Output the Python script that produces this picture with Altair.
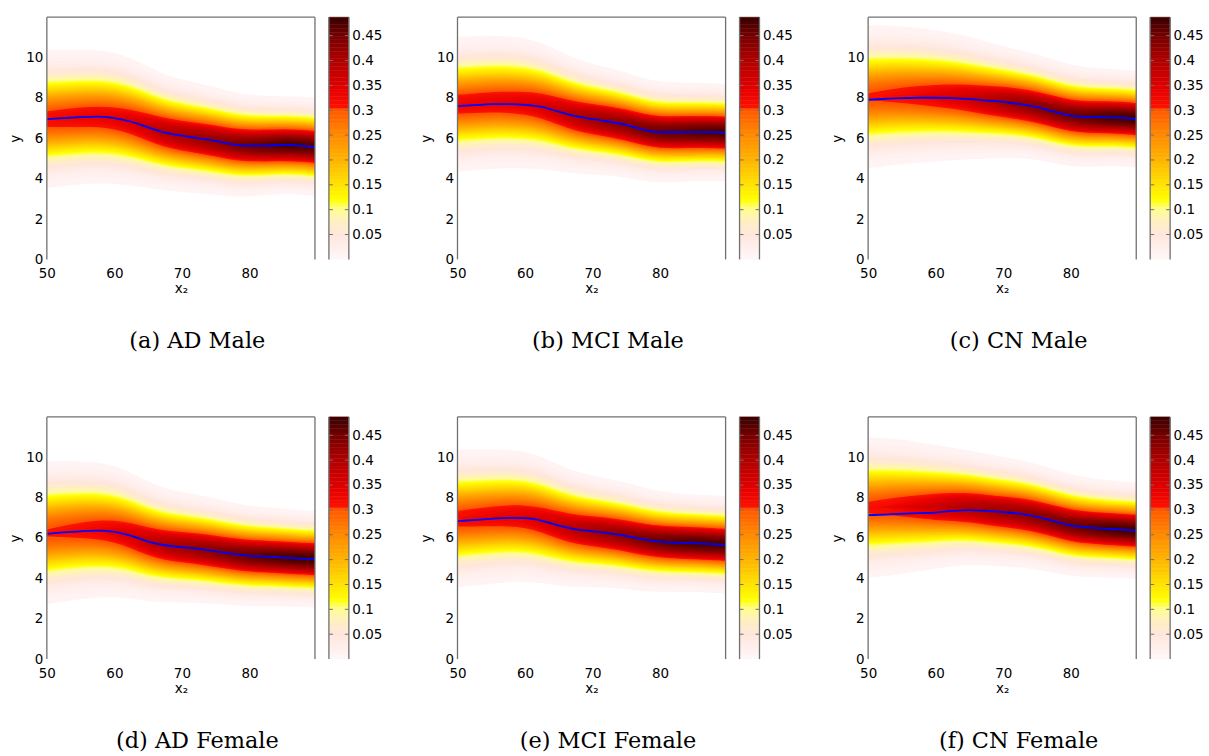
import numpy as np
import pandas as pd
import altair as alt

# ---------------- data ----------------
X_KNOTS = [50, 52.5, 55, 57.5, 60, 62.5, 65, 67.5, 70, 72.5, 75, 77.5, 80, 82.5, 85, 87.5, 89.7]

CAPTIONS = ["(a) AD Male", "(b) MCI Male", "(c) CN Male",
            "(d) AD Female", "(e) MCI Female", "(f) CN Female"]

# blue curve (expected y) per panel
LINE_AD_M = [6.95, 7.00, 7.05, 7.07, 7.00, 6.82, 6.54, 6.28, 6.13, 6.00, 5.87, 5.70, 5.64, 5.64, 5.67, 5.64, 5.57]
LINE_MCI_M = [7.59, 7.64, 7.69, 7.69, 7.66, 7.56, 7.32, 7.10, 6.95, 6.82, 6.66, 6.43, 6.30, 6.30, 6.31, 6.31, 6.28]
LINE_CN_M = [7.91, 7.96, 7.99, 8.01, 8.01, 7.99, 7.94, 7.87, 7.81, 7.69, 7.55, 7.32, 7.12, 7.05, 7.04, 7.02, 6.95]
LINE_AD_F = [6.20, 6.28, 6.33, 6.36, 6.30, 6.10, 5.82, 5.64, 5.54, 5.46, 5.34, 5.21, 5.11, 5.08, 5.03, 4.98, 4.95]
LINE_MCI_F = [6.84, 6.89, 6.95, 7.00, 6.98, 6.85, 6.61, 6.43, 6.33, 6.23, 6.10, 5.93, 5.82, 5.77, 5.74, 5.70, 5.66]
LINE_CN_F = [7.13, 7.16, 7.20, 7.23, 7.26, 7.34, 7.38, 7.34, 7.28, 7.21, 7.05, 6.84, 6.62, 6.52, 6.46, 6.41, 6.36]

# shift of the density centre relative to the blue curve
SHIFT_AD_M = [0.0] * 17
SHIFT_MCI_M = [0.10, 0.10, 0.10, 0.10, 0.08, 0.05, 0.02, 0, 0, 0, 0, 0, 0, 0, 0, 0, 0]
SHIFT_CN_M = [0.15, 0.15, 0.14, 0.12, 0.10, 0.08, 0.05, 0.02, 0, 0, 0, 0, 0, 0, 0, 0, 0]
SHIFT_AD_F = [0.05, 0.05, 0.05, 0.04, 0.03, 0.02, 0, 0, 0, 0, 0, 0, 0, 0, 0, 0, 0]
SHIFT_MCI_F = [0.12, 0.12, 0.11, 0.10, 0.08, 0.05, 0.02, 0, 0, 0, 0, 0, 0, 0, 0, 0, 0]
SHIFT_CN_F = [0.38, 0.37, 0.35, 0.32, 0.28, 0.20, 0.12, 0.06, 0.02, 0, 0, 0, 0, 0, 0, 0, 0]

# spread (sd) of the conditional density per panel
SD_AD_M = [1.25, 1.23, 1.21, 1.20, 1.18, 1.14, 1.08, 1.02, 0.99, 0.96, 0.94, 0.91, 0.88, 0.86, 0.84, 0.84, 0.85]
SD_MCI_M = [1.22, 1.21, 1.20, 1.19, 1.17, 1.13, 1.07, 1.01, 0.97, 0.94, 0.92, 0.89, 0.87, 0.86, 0.85, 0.84, 0.84]
SD_CN_M = [1.30, 1.28, 1.25, 1.22, 1.18, 1.14, 1.09, 1.03, 0.98, 0.94, 0.92, 0.90, 0.88, 0.86, 0.84, 0.83, 0.83]
SD_AD_F = [1.30, 1.28, 1.25, 1.22, 1.18, 1.12, 1.06, 1.00, 0.97, 0.94, 0.92, 0.89, 0.87, 0.85, 0.84, 0.83, 0.83]
SD_MCI_F = [1.25, 1.23, 1.21, 1.19, 1.17, 1.13, 1.07, 1.02, 0.98, 0.95, 0.93, 0.90, 0.87, 0.85, 0.84, 0.84, 0.84]
SD_CN_F = [1.28, 1.25, 1.21, 1.16, 1.10, 1.05, 1.01, 0.98, 0.96, 0.94, 0.92, 0.90, 0.88, 0.86, 0.84, 0.83, 0.83]

LINES = [LINE_AD_M, LINE_MCI_M, LINE_CN_M, LINE_AD_F, LINE_MCI_F, LINE_CN_F]
SHIFTS = [SHIFT_AD_M, SHIFT_MCI_M, SHIFT_CN_M, SHIFT_AD_F, SHIFT_MCI_F, SHIFT_CN_F]
SDS = [SD_AD_M, SD_MCI_M, SD_CN_M, SD_AD_F, SD_MCI_F, SD_CN_F]

# colour map (value -> colour)
CMAP_VALUES = [0.0, 0.025, 0.05, 0.075, 0.10, 0.12, 0.15, 0.20, 0.25, 0.3015, 0.302, 0.34, 0.40, 0.45, 0.487]
CMAP_COLORS = ["#fff8f8", "#ffefec", "#ffe6dc", "#ffeec4", "#fffc98", "#ffff00", "#ffe400",
               "#ffb400", "#ff8a00", "#ff5800", "#ff1400", "#e60000", "#b00000", "#760000", "#380000"]
CBAR_MAX = 0.487
N_COLORS = 64
CBAR_TICKS = [0.05, 0.1, 0.15, 0.2, 0.25, 0.3, 0.35, 0.4, 0.45]
X_TICKS = [50, 60, 70, 80]
Y_TICKS = [0, 2, 4, 6, 8, 10]

# ---------------- helpers ----------------
def hex2rgb(h):
    h = h.lstrip("#")
    return np.array([int(h[i:i + 2], 16) for i in (0, 2, 4)], dtype=float)

_stops = np.array([hex2rgb(c) for c in CMAP_COLORS])

def cmap(v):
    rgb = [np.interp(v, CMAP_VALUES, _stops[:, j]) for j in range(3)]
    return "#%02x%02x%02x" % tuple(int(round(c)) for c in rgb)

DELTA = CBAR_MAX / N_COLORS
BIN_COLORS = [cmap((k + 0.5) * DELTA) for k in range(N_COLORS)]

W, H = 269, 243
CB_X0, CB_X1 = 283, 303
GRAY = "#707070"
SANS = "DejaVu Sans"
FS = 13.5

cb_df = pd.DataFrame({"v0": [k * DELTA for k in range(N_COLORS)],
                      "v1": [(k + 1) * DELTA for k in range(N_COLORS)],
                      "col": BIN_COLORS})
tick_df = pd.DataFrame({"v": CBAR_TICKS})
one_df = pd.DataFrame({"a": [0]})

xscale = alt.Scale(domain=[50, 89.7], nice=False, zero=False)
yscale = alt.Scale(domain=[0, 12], nice=False)
cbscale = alt.Scale(domain=[0, CBAR_MAX], nice=False, zero=False)

X_AXIS = alt.Axis(values=X_TICKS, title="x₂", ticks=False, domain=False, grid=False,
                  labelPadding=7, titlePadding=2, labelFont=SANS, labelFontSize=FS,
                  titleFont=SANS, titleFontSize=FS, titleFontWeight="normal",
                  labelColor="black", titleColor="black", labelFlush=False)
Y_AXIS = alt.Axis(values=Y_TICKS, title="y", ticks=False, domain=False, grid=False,
                  labelPadding=4, titlePadding=3, labelFont=SANS, labelFontSize=FS,
                  titleFont=SANS, titleFontSize=FS, titleFontWeight="normal",
                  labelColor="black", titleColor="black", labelFlush=False)


def band_frame(i):
    rows = []
    xs = np.array(X_KNOTS)
    c = np.array(LINES[i]) + np.array(SHIFTS[i])
    s = np.array(SDS[i])
    peak = 1.0 / (s * np.sqrt(2 * np.pi))
    for k in range(1, N_COLORS):
        lev = k * DELTA
        if not np.any(peak > lev):
            continue
        ratio = np.maximum(peak / lev, 1.0)
        d = s * np.sqrt(2 * np.log(ratio))
        for j in range(len(xs)):
            rows.append({"x": xs[j], "lo": c[j] - d[j], "hi": c[j] + d[j],
                         "k": k, "col": BIN_COLORS[k]})
    return pd.DataFrame(rows)


def panel(i):
    areas = alt.Chart(band_frame(i)).mark_area(interpolate="basis", clip=True).encode(
        x=alt.X("x:Q", scale=xscale, axis=X_AXIS),
        y=alt.Y("lo:Q", scale=yscale, axis=Y_AXIS),
        y2="hi:Q",
        detail="k:O",
        color=alt.Color("col:N", scale=None),
    )
    line_df = pd.DataFrame({"x": X_KNOTS, "y": LINES[i]})
    line = alt.Chart(line_df).mark_line(color="#0000ff", strokeWidth=1.8,
                                        interpolate="monotone", clip=True).encode(
        x=alt.X("x:Q", scale=xscale, axis=X_AXIS),
        y=alt.Y("y:Q", scale=yscale, axis=None),
    )
    frame_l = alt.Chart(one_df).mark_rule(color=GRAY, strokeWidth=1.3).encode(
        x=alt.value(0), y=alt.value(0), y2=alt.value(H))
    frame_r = alt.Chart(one_df).mark_rule(color=GRAY, strokeWidth=1.3).encode(
        x=alt.value(W), y=alt.value(0), y2=alt.value(H))
    frame_t = alt.Chart(one_df).mark_rule(color=GRAY, strokeWidth=1.3).encode(
        x=alt.value(0), x2=alt.value(W), y=alt.value(0))

    cbar = alt.Chart(cb_df).mark_rect(strokeWidth=0.5).encode(
        x=alt.value(CB_X0), x2=alt.value(CB_X1),
        y=alt.Y("v0:Q", scale=cbscale,
                axis=alt.Axis(orient="right", offset=CB_X1 - W, values=CBAR_TICKS, format=".2~f",
                              ticks=False, domain=False, grid=False, title=None,
                              labelPadding=3, labelFont=SANS, labelFontSize=FS,
                              labelColor="black", labelFlush=False)),
        y2="v1:Q",
        color=alt.Color("col:N", scale=None),
        stroke=alt.Stroke("col:N", scale=None),
    )
    cb_tr = alt.Chart(tick_df).mark_rule(color=GRAY, strokeWidth=1).encode(
        x=alt.value(CB_X1 - 4), x2=alt.value(CB_X1),
        y=alt.Y("v:Q", scale=cbscale, axis=None))
    cb_tl = alt.Chart(tick_df).mark_rule(color=GRAY, strokeWidth=1).encode(
        x=alt.value(CB_X0), x2=alt.value(CB_X0 + 4),
        y=alt.Y("v:Q", scale=cbscale, axis=None))
    cb_fl = alt.Chart(one_df).mark_rule(color=GRAY, strokeWidth=1.3).encode(
        x=alt.value(CB_X0), y=alt.value(0), y2=alt.value(H))
    cb_fr = alt.Chart(one_df).mark_rule(color=GRAY, strokeWidth=1.3).encode(
        x=alt.value(CB_X1), y=alt.value(0), y2=alt.value(H))

    cap = alt.Chart(pd.DataFrame({"t": [CAPTIONS[i]]})).mark_text(
        font="DejaVu Serif", fontSize=22.5, baseline="alphabetic", align="center", color="black"
    ).encode(text="t:N", x=alt.value(151), y=alt.value(332))

    return alt.layer(areas, line, frame_l, frame_r, frame_t,
                     cbar, cb_tr, cb_tl, cb_fl, cb_fr, cap).resolve_scale(
        y="independent").properties(width=W, height=H)


chart = alt.ConcatChart(
    concat=[panel(i) for i in range(6)],
    columns=3,
    spacing={"row": 158, "column": 143},
    bounds="flush",
).properties(
    padding={"left": 8, "top": 15, "right": 5, "bottom": 5},
    background="white",
).configure_view(stroke=None)

chart.save("out.html", embed_options={"renderer": "svg", "actions": False})
